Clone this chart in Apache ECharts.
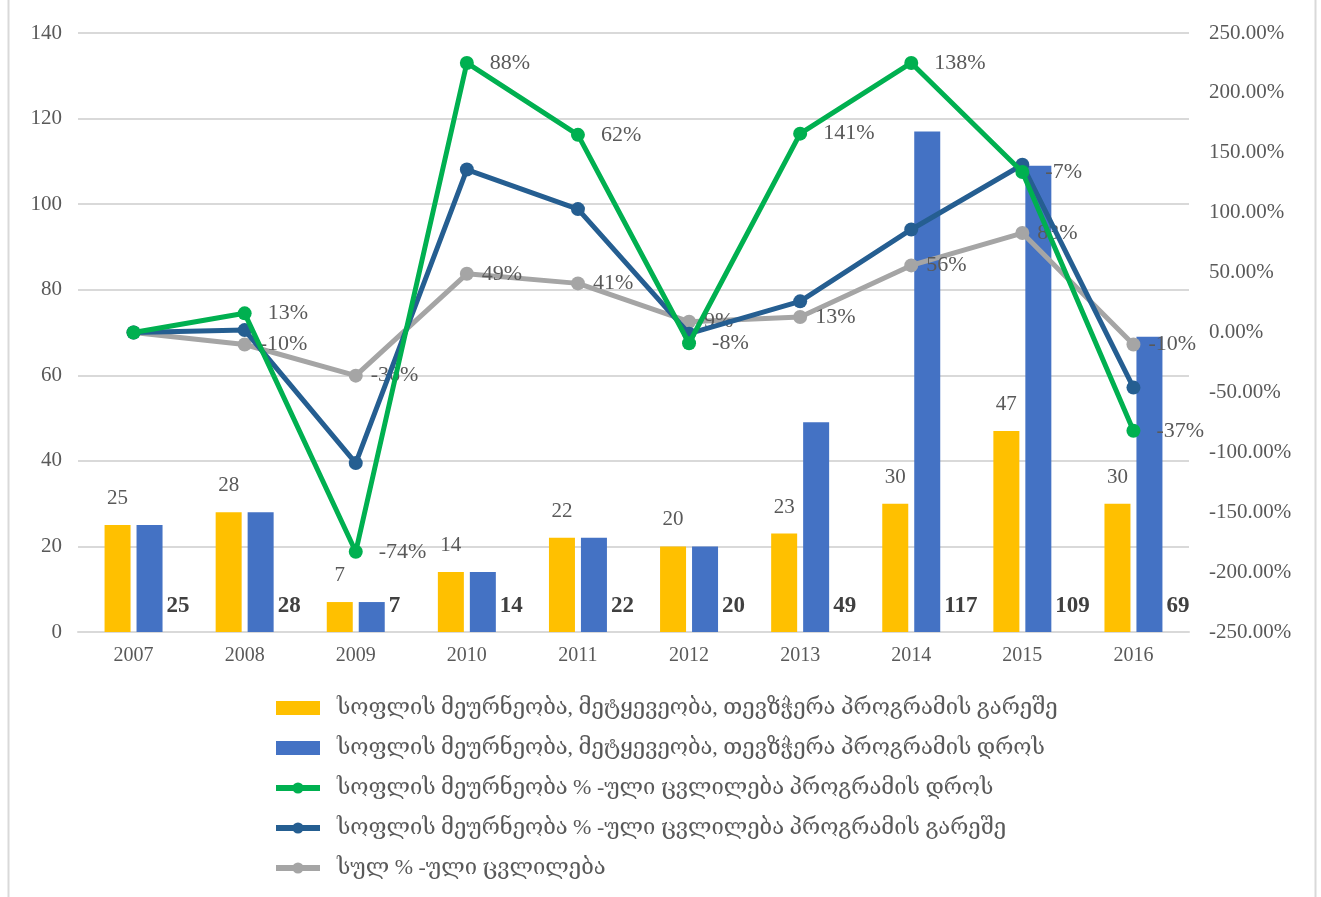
<!DOCTYPE html>
<html>
<head>
<meta charset="utf-8">
<script src="https://cdn.jsdelivr.net/npm/echarts@6/dist/echarts.min.js"></script>
<style>
  html, body { margin: 0; padding: 0; background: #fff; }
  #chart { width: 1321px; height: 897px; }
</style>
</head>
<body>
<div id="chart"></div>
<script>
// categories and values
const years = ['2007', '2008', '2009', '2010', '2011', '2012', '2013', '2014', '2015', '2016']

const outsideProgram = [25, 28, 7, 14, 22, 20, 23, 30, 47, 30]
const duringProgram = [25, 28, 7, 14, 22, 20, 49, 117, 109, 69]

// % change series (right axis)
const changeDuring = [0, 16, -183, 225, 165, -9, 166, 225, 134, -82]
const changeOutside = [0, 2, -109, 136, 103, -1, 26, 86, 140, -46]
const changeTotal = [0, -10, -36, 49, 41, 9, 13, 56, 83, -10]

// data labels as they appear on the chart
const labelsDuring = ['', '13%', '-74%', '88%', '62%', '-8%', '141%', '138%', '-7%', '-37%']
const labelsTotal = ['', '-10%', '-36%', '49%', '41%', '9%', '13%', '56%', '83%', '-10%']

const names = [
  'სოფლის მეურნეობა, მეტყევეობა, თევზჭერა პროგრამის გარეშე',
  'სოფლის მეურნეობა, მეტყევეობა, თევზჭერა პროგრამის დროს',
  'სოფლის მეურნეობა % -ული ცვლილება პროგრამის დროს',
  'სოფლის მეურნეობა % -ული ცვლილება პროგრამის გარეშე',
  'სულ % -ული ცვლილება'
]

const FONT = '"Liberation Serif", "DejaVu Serif", serif'
const TXT = '#595959'

const chart = echarts.init(document.getElementById('chart'))

const option = {
  animation: false,
  textStyle: { fontFamily: FONT },
  grid: { left: 78, right: 132, top: 33, bottom: 265 },
  graphic: [
    { type: 'line', shape: { x1: 8.5, y1: 0, x2: 8.5, y2: 897 }, style: { stroke: '#d9d9d9', lineWidth: 2 } },
    { type: 'line', shape: { x1: 1315.5, y1: 0, x2: 1315.5, y2: 897 }, style: { stroke: '#d9d9d9', lineWidth: 2 } }
  ],
  legend: {
    orient: 'vertical',
    left: 268,
    top: 692,
    itemGap: 18,
    itemWidth: 44,
    itemHeight: 14,
    data: [
      { name: names[0], icon: 'rect' },
      { name: names[1], icon: 'rect' },
      names[2],
      names[3],
      names[4]
    ],
    lineStyle: { width: 6 },
    textStyle: { fontFamily: FONT, fontSize: 22, color: TXT, padding: [0, 0, 0, 12] }
  },
  xAxis: {
    type: 'category',
    data: years,
    axisLine: { lineStyle: { color: '#d9d9d9', width: 2 } },
    axisTick: { show: false },
    axisLabel: { color: TXT, fontSize: 20, margin: 14, fontFamily: FONT }
  },
  yAxis: [
    {
      type: 'value',
      min: 0,
      max: 140,
      interval: 20,
      axisLine: { show: false },
      axisTick: { show: false },
      splitLine: { lineStyle: { color: '#d9d9d9', width: 2 } },
      axisLabel: { color: TXT, fontSize: 21, margin: 16, fontFamily: FONT }
    },
    {
      type: 'value',
      min: -250,
      max: 250,
      interval: 50,
      axisLine: { show: false },
      axisTick: { show: false },
      splitLine: { show: false },
      axisLabel: {
        color: TXT, fontSize: 21, margin: 20, fontFamily: FONT,
        formatter: v => v.toFixed(2) + '%'
      }
    }
  ],
  series: [
    {
      name: names[0],
      type: 'bar',
      data: outsideProgram,
      barWidth: 26,
      barGap: '23%',
      itemStyle: { color: '#FFC000' },
      label: {
        show: true,
        position: 'top',
        distance: 16,
        color: TXT,
        fontSize: 21,
        fontFamily: FONT
      }
    },
    {
      name: names[1],
      type: 'bar',
      data: duringProgram,
      barWidth: 26,
      itemStyle: { color: '#4472C4' },
      label: {
        show: true,
        position: 'insideBottomLeft',
        distance: 0,
        offset: [30, -14],
        color: '#404040',
        fontWeight: 'bold',
        fontSize: 23,
        fontFamily: FONT
      }
    },
    {
      name: names[4],
      type: 'line',
      yAxisIndex: 1,
      data: changeTotal,
      z: 3,
      symbol: 'circle',
      symbolSize: 14,
      lineStyle: { color: '#A5A5A5', width: 5 },
      itemStyle: { color: '#A5A5A5' },
      label: {
        show: true,
        position: 'right',
        distance: 8,
        color: TXT,
        fontSize: 22,
        fontFamily: FONT,
        formatter: p => labelsTotal[p.dataIndex]
      }
    },
    {
      name: names[3],
      type: 'line',
      yAxisIndex: 1,
      data: changeOutside,
      z: 4,
      symbol: 'circle',
      symbolSize: 14,
      lineStyle: { color: '#255E91', width: 5 },
      itemStyle: { color: '#255E91' }
    },
    {
      name: names[2],
      type: 'line',
      yAxisIndex: 1,
      data: changeDuring,
      z: 5,
      symbol: 'circle',
      symbolSize: 14,
      lineStyle: { color: '#00B050', width: 5 },
      itemStyle: { color: '#00B050' },
      label: {
        show: true,
        position: 'right',
        distance: 16,
        color: TXT,
        fontSize: 22,
        fontFamily: FONT,
        formatter: p => labelsDuring[p.dataIndex]
      }
    }
  ]
}

chart.setOption(option)
</script>
</body>
</html>
